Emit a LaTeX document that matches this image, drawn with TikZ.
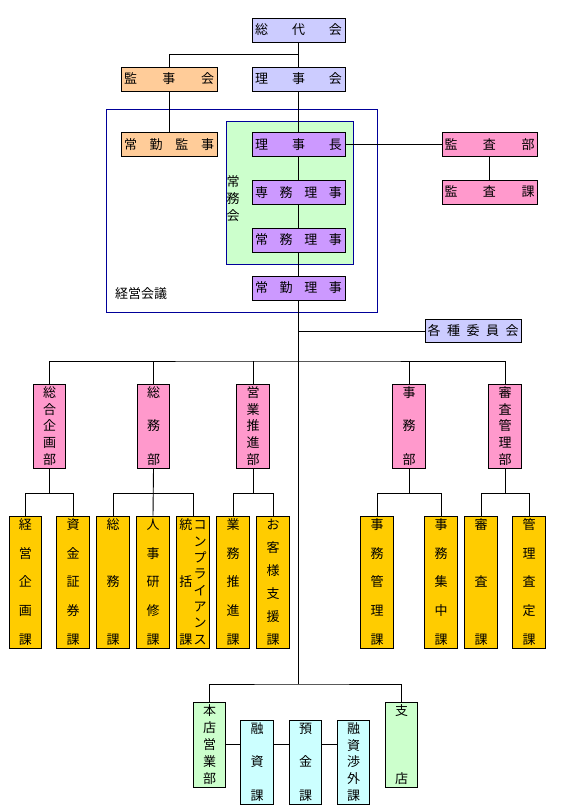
\documentclass[tikz,border=0pt]{standalone}
\usepackage{fontspec}
\setmainfont{Noto Sans CJK JP}
\usetikzlibrary{calc}
\definecolor{lav}{HTML}{CCCCFF}
\definecolor{peach}{HTML}{FFCC99}
\definecolor{purp}{HTML}{CC99FF}
\definecolor{lgreen}{HTML}{CCFFCC}
\definecolor{pinkc}{HTML}{FF99CC}
\definecolor{goldc}{HTML}{FFCC00}
\definecolor{cyanc}{HTML}{CCFFFF}
\definecolor{navyc}{HTML}{000099}
% vertical distributed text
\def\cellv#1{\hbox to 1.05em{\hss\vrule height .88em depth .12em width 0pt\smash{#1}\hss}}
\def\VT#1#2{\vbox to #1{\offinterlineskip\VTa#2\relax}}
\def\VTa#1{\cellv{#1}\VTb}
\def\VTb#1{\ifx#1\relax\else\vfill\cellv{#1}\expandafter\VTb\fi}
% horizontal distributed text
\def\cellh#1{\hbox{\vrule height .88em depth .12em width 0pt#1}}
\def\HT#1#2{\hbox to #1{\HTa#2\relax}}
\def\HTa#1{\cellh{#1}\HTb}
\def\HTb#1{\ifx#1\relax\else\hfill\cellh{#1}\expandafter\HTb\fi}
\tikzset{
  bx/.style={draw=black, line width=0.9pt, inner sep=0pt, align=center},
  hb/.style={bx, minimum width=93pt, minimum height=24pt},
  hbw/.style={bx, minimum width=96pt, minimum height=24pt},
  dept/.style={bx, fill=pinkc, minimum width=32.5pt, minimum height=84pt},
  sect/.style={bx, fill=goldc, minimum width=32.5pt, minimum height=132pt},
  bot/.style={bx, minimum width=32.5pt, minimum height=84pt},
  conn/.style={draw=black, line width=0.9pt},
}
\begin{document}
\begin{tikzpicture}[x=1pt,y=-1pt,font=\fontsize{13pt}{15pt}\selectfont]
\useasboundingbox[fill=white] (0,0) rectangle (586,811);
% frames
\draw[navyc, line width=0.9pt] (106,109) rectangle (377,312);
\draw[navyc, line width=0.9pt, fill=lgreen] (226,121) rectangle (353,264);
\node (keieikaigi) [anchor=west, inner sep=0pt] at (115,294) {経営会議};
\node (jomukai) [inner sep=0pt] at (233,198.5) {\VT{46pt}{常務会}};
% top
\node[hb, fill=lav] (sodai) at (298.5,30) {\HT{87pt}{総代会}};
\node[hbw, fill=peach] (kanjikai) at (169,79) {\HT{90pt}{監事会}};
\node[hb, fill=lav] (rijikai) at (298.5,79) {\HT{87pt}{理事会}};
\node[hbw, fill=peach] (jkanji) at (169,144.5) {\HT{90pt}{常勤監事}};
\node[hb, fill=purp] (richo) at (298.5,144.5) {\HT{87pt}{理事長}};
\node[hb, fill=purp] (senmu) at (298.5,192.5) {\HT{87pt}{専務理事}};
\node[hb, fill=purp] (jomu) at (298.5,240) {\HT{87pt}{常務理事}};
\node[hb, fill=purp] (jriji) at (298.5,288) {\HT{87pt}{常勤理事}};
\node[bx, fill=pinkc, minimum width=95pt, minimum height=24pt] (kansabu) at (489.5,144.5) {\HT{90pt}{監査部}};
\node[bx, fill=pinkc, minimum width=95pt, minimum height=24pt] (kansaka) at (489.5,192) {\HT{90pt}{監査課}};
\node[bx, fill=lav, minimum width=96pt, minimum height=23pt] (iinkai) at (473,331) {\HT{91pt}{各種委員会}};
% departments
\node[dept] (d1) at (49.5,426) {\VT{78pt}{総合企画部}};
\node[dept] (d2) at (153.5,426) {\VT{78pt}{総務部}};
\node[dept] (d3) at (253,426) {\VT{78pt}{営業推進部}};
\node[dept] (d4) at (409,426) {\VT{78pt}{事務部}};
\node[dept] (d5) at (505,426) {\VT{78pt}{審査管理部}};
% sections
\node[sect] (k1) at (25.5,582) {\VT{126pt}{経営企画課}};
\node[sect] (k2) at (73,582) {\VT{126pt}{資金証券課}};
\node[sect] (k3) at (113,582) {\VT{126pt}{総務課}};
\node[sect] (k4) at (153,582) {\VT{126pt}{人事研修課}};
\node[sect] (k5) at (193,582) {\hbox{\VT{126pt}{統括課}\kern0.5pt\VT{126pt}{コンプライアンス}}};
\node[sect] (k6) at (233,582) {\VT{126pt}{業務推進課}};
\node[sect] (k7) at (273,582) {\VT{126pt}{お客様支援課}};
\node[sect] (k8) at (377,582) {\VT{126pt}{事務管理課}};
\node[sect] (k9) at (441,582) {\VT{126pt}{事務集中課}};
\node[sect] (k10) at (481,582) {\VT{126pt}{審査課}};
\node[sect] (k11) at (529,582) {\VT{126pt}{管理査定課}};
% bottom
\node[bot, fill=lgreen, minimum height=85pt] (honten) at (209.5,744.5) {\VT{79pt}{本店営業部}};
\node[bot, fill=cyanc] (yushi) at (257,762) {\VT{78pt}{融資課}};
\node[bot, fill=cyanc] (yokin) at (305.5,762) {\VT{78pt}{預金課}};
\node[bot, fill=cyanc] (shogai) at (353.5,762) {\VT{78pt}{融資渉外課}};
\node[bot, fill=lgreen, minimum height=85pt] (shiten) at (401.5,744.5) {\VT{79pt}{支店}};
% connectors
\coordinate (j1) at (298.5,54);
\coordinate (ji) at (298.5,331);
\coordinate (bus) at (298.5,361);
\coordinate (tb) at (298.5,684);
\draw[conn] (sodai) -- (rijikai);
\draw[conn] (kanjikai.north) |- (j1);
\draw[conn] (kanjikai) -- (jkanji);
\draw[conn] (rijikai) -- (richo);
\draw[conn] (richo) -- (senmu);
\draw[conn] (senmu) -- (jomu);
\draw[conn] (jomu) -- (jriji);
\draw[conn] (richo) -- (kansabu);
\draw[conn] (kansabu) -- (kansaka);
\draw[conn] (jriji.south) -- (tb);
\draw[conn] (ji) -- (iinkai.west);
\draw[conn] (d1.north) |- (bus) -| (d5.north);
\draw[conn] (d2.north) -- (d2.north |- bus);
\draw[conn] (d3.north) -- (d3.north |- bus);
\draw[conn] (d4.north) -- (d4.north |- bus);
% dept to sections
\draw[conn] (d1.south) -- ++(0,25);
\draw[conn] (k1.north) |- ($(d1.south)+(0,25)$) -| (k2.north);
\draw[conn] (d2.south) -- (k4.north);
\draw[conn] (k3.north) |- ($(d2.south)+(0,25)$) -| (k5.north);
\draw[conn] (d3.south) -- ++(0,25);
\draw[conn] (k6.north) |- ($(d3.south)+(0,25)$) -| (k7.north);
\draw[conn] (d4.south) -- ++(0,25);
\draw[conn] (k8.north) |- ($(d4.south)+(0,25)$) -| (k9.north);
\draw[conn] (d5.south) -- ++(0,25);
\draw[conn] (k10.north) |- ($(d5.south)+(0,25)$) -| (k11.north);
% bottom
\draw[conn] (honten.north) |- (tb) -| (shiten.north);
\draw[conn] (honten.east) -- (honten.east -| yushi.west);
\draw[conn] (yushi.east |- honten.east) -- (yokin.west |- honten.east);
\draw[conn] (yokin.east |- honten.east) -- (shogai.west |- honten.east);
\end{tikzpicture}
\end{document}
